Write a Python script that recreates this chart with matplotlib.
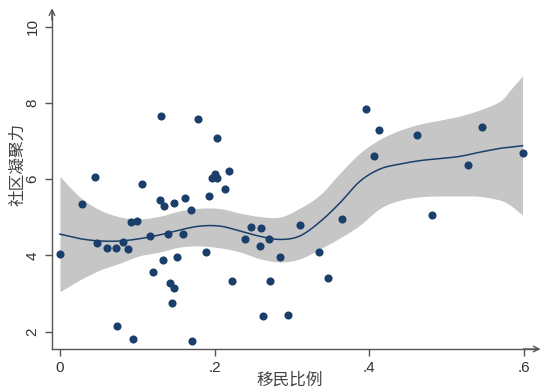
import matplotlib
matplotlib.use("Agg")
import matplotlib.pyplot as plt
import numpy as np

# scatter data: immigrant share vs community cohesion
share = [0.000, 0.029, 0.045, 0.048, 0.061, 0.072, 0.074, 0.081, 0.088, 0.092,
         0.099, 0.095, 0.106, 0.116, 0.120, 0.129, 0.131, 0.133, 0.134, 0.140,
         0.142, 0.145, 0.147, 0.148, 0.151, 0.159, 0.162, 0.170, 0.171, 0.179,
         0.189, 0.193, 0.196, 0.200, 0.203, 0.203, 0.213, 0.219, 0.222, 0.239,
         0.247, 0.259, 0.260, 0.262, 0.270, 0.272, 0.285, 0.295, 0.310, 0.335,
         0.347, 0.365, 0.395, 0.406, 0.412, 0.461, 0.481, 0.528, 0.545, 0.598]
cohesion = [4.04, 5.34, 6.07, 4.32, 4.20, 4.19, 2.16, 4.36, 4.16, 4.87,
            4.91, 1.80, 5.87, 4.50, 3.57, 5.46, 7.66, 3.88, 5.30, 4.56,
            3.29, 2.74, 5.38, 3.14, 3.96, 4.56, 5.50, 5.19, 1.76, 7.57,
            4.10, 5.55, 6.04, 6.14, 6.04, 7.09, 5.74, 6.22, 3.34, 4.44,
            4.75, 4.25, 4.73, 2.42, 4.43, 3.34, 3.96, 2.45, 4.80, 4.10,
            3.42, 4.96, 7.84, 6.61, 7.28, 7.17, 5.07, 6.38, 7.38, 6.70]

# local polynomial fit with confidence band
fit_x = [0.000, 0.026, 0.052, 0.078, 0.103, 0.129, 0.155, 0.181, 0.207, 0.233,
         0.259, 0.285, 0.310, 0.336, 0.362, 0.388, 0.414, 0.440, 0.466, 0.491,
         0.517, 0.543, 0.569, 0.582, 0.598]
fit_y = [4.56, 4.44, 4.38, 4.38, 4.44, 4.54, 4.67, 4.77, 4.77, 4.64,
         4.50, 4.42, 4.51, 4.88, 5.38, 5.95, 6.27, 6.40, 6.49, 6.54,
         6.60, 6.71, 6.81, 6.84, 6.88]
ci_hi = [6.07, 5.53, 5.19, 5.01, 4.96, 5.03, 5.17, 5.24, 5.23, 5.11,
         5.02, 5.01, 5.24, 5.59, 6.16, 6.69, 7.05, 7.29, 7.45, 7.55,
         7.66, 7.82, 8.05, 8.34, 8.71]
ci_lo = [3.05, 3.36, 3.62, 3.80, 3.99, 4.09, 4.22, 4.25, 4.20, 4.09,
         3.91, 3.83, 3.91, 4.17, 4.46, 4.80, 5.24, 5.45, 5.54, 5.56,
         5.56, 5.55, 5.45, 5.32, 5.06]

x_ticks = [0, 0.2, 0.4, 0.6]
x_ticklabels = ["0", ".2", ".4", ".6"]
y_ticks = [2, 4, 6, 8, 10]
y_ticklabels = ["2", "4", "6", "8", "10"]


def smooth(xs, ys, n=12):
    """Catmull-Rom rendering of a curve through the read points."""
    xs = np.asarray(xs, float)
    ys = np.asarray(ys, float)
    px = np.concatenate([[2 * xs[0] - xs[1]], xs, [2 * xs[-1] - xs[-2]]])
    py = np.concatenate([[2 * ys[0] - ys[1]], ys, [2 * ys[-1] - ys[-2]]])
    ox, oy = [], []
    t = np.linspace(0, 1, n, endpoint=False)
    for i in range(1, len(px) - 2):
        for arr, out in ((px, ox), (py, oy)):
            p0, p1, p2, p3 = arr[i - 1], arr[i], arr[i + 1], arr[i + 2]
            out.extend(0.5 * (2 * p1 + (-p0 + p2) * t
                              + (2 * p0 - 5 * p1 + 4 * p2 - p3) * t ** 2
                              + (-p0 + 3 * p1 - 3 * p2 + p3) * t ** 3))
    ox.append(xs[-1])
    oy.append(ys[-1])
    return np.array(ox), np.array(oy)


navy = "#1a3f6b"
axis_col = "#555555"
text_col = "#333333"

fig = plt.figure(figsize=(5.44, 3.92), dpi=100)
ax = fig.add_axes([52/544, 43/392, 486/544, 339/392])

sx, shi = smooth(fit_x, ci_hi)
_, slo = smooth(fit_x, ci_lo)
_, sfit = smooth(fit_x, fit_y)
ax.fill_between(sx, slo, shi, color="#c6c6c6", lw=0, zorder=1)
ax.plot(sx, sfit, color=navy, lw=1.1, zorder=2)
ax.scatter(share, cohesion, s=34, color=navy, lw=0, zorder=3)

ax.set_xlim(-0.0103, 0.618)
ax.set_ylim(1.546, 10.44)

for s in ["top", "right"]:
    ax.spines[s].set_visible(False)
for s in ["left", "bottom"]:
    ax.spines[s].set_color(axis_col)
    ax.spines[s].set_linewidth(1.0)

# arrow heads
ax.annotate("", xy=(1.005, 0), xytext=(0.97, 0), xycoords="axes fraction",
            arrowprops=dict(arrowstyle="->", color=axis_col, lw=1.0,
                            shrinkA=0, shrinkB=0), annotation_clip=False)
ax.annotate("", xy=(0, 1.005), xytext=(0, 0.97), xycoords="axes fraction",
            arrowprops=dict(arrowstyle="->", color=axis_col, lw=1.0,
                            shrinkA=0, shrinkB=0), annotation_clip=False)

tick_font = dict(family=["Liberation Sans", "DejaVu Sans"], size=11, color=text_col)
ax.set_xticks(x_ticks)
ax.set_xticklabels(x_ticklabels, **tick_font)
ax.set_yticks(y_ticks)
ax.set_yticklabels(y_ticklabels, rotation=90, va="center", **tick_font)
ax.tick_params(axis="both", length=5, width=1.0, color=axis_col, pad=4)

cjk = ["Noto Sans CJK SC", "DejaVu Sans"]
ax.set_xlabel("移民比例", family=cjk, fontsize=12, color="#444444")
ax.xaxis.set_label_coords(0.49, -0.066)
ax.set_ylabel("社区凝聚力", family=cjk, fontsize=12, color="#444444")
ax.yaxis.set_label_coords(-0.052, 0.545)

fig.savefig("out.png", dpi=100)
